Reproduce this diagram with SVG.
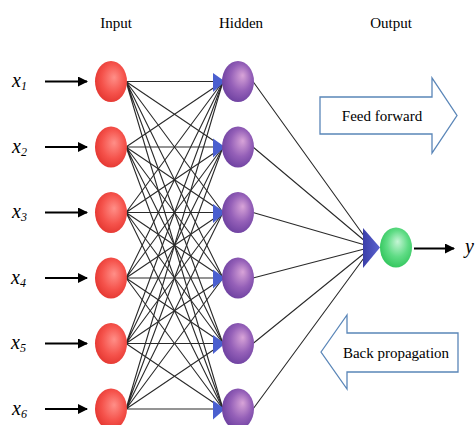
<svg xmlns="http://www.w3.org/2000/svg" width="476" height="425" viewBox="0 0 476 425">
<defs>
<radialGradient id="gRed" cx="0.55" cy="0.45" r="0.6" fx="0.6" fy="0.4">
<stop offset="0" stop-color="#ff8f88"/><stop offset="0.6" stop-color="#f5524b"/><stop offset="1" stop-color="#e3352f"/>
</radialGradient>
<radialGradient id="gPur" cx="0.55" cy="0.45" r="0.6" fx="0.65" fy="0.35">
<stop offset="0" stop-color="#d8a4d8"/><stop offset="0.55" stop-color="#9560b8"/><stop offset="1" stop-color="#6b3f9f"/>
</radialGradient>
<radialGradient id="gGrn" cx="0.55" cy="0.45" r="0.6" fx="0.55" fy="0.35">
<stop offset="0" stop-color="#c5f5d5"/><stop offset="0.55" stop-color="#5fdc85"/><stop offset="1" stop-color="#2fc45a"/>
</radialGradient>
<linearGradient id="gTri" x1="0" y1="0" x2="1" y2="0">
<stop offset="0" stop-color="#3b3fa8"/><stop offset="1" stop-color="#5a62d0"/>
</linearGradient>
<marker id="ah" viewBox="0 0 10 10" refX="9" refY="5" markerWidth="5" markerHeight="5" markerUnits="strokeWidth" orient="auto">
<path d="M0,0 L10,5 L0,10 z" fill="#000"/>
</marker>
</defs>
<style>
.t{font-family:"Liberation Serif","Times New Roman",serif;font-size:15px;fill:#000;text-anchor:middle}
.x{font-family:"Liberation Serif","Times New Roman",serif;font-style:italic;font-size:20px;fill:#000}
.sub{font-size:12px}
.w{stroke:#2a2a2a;stroke-width:1.1;fill:none}
.ia{stroke:#000;stroke-width:2;fill:none;marker-end:url(#ah)}
.big{fill:#fff;stroke:#5a86b8;stroke-width:1.3}
.ht{fill:#4a5fcf}
</style>
<rect width="476" height="425" fill="#fff"/>
<text class="t" x="116" y="28">Input</text>
<text class="t" x="241" y="28">Hidden</text>
<text class="t" x="391" y="28">Output</text>
<g id="connectors">
<g class="w">
<path d="M126,81.5L223,81.5M126,81.5L223,147M126,81.5L223,212.5M126,81.5L223,278M126,81.5L223,343.5M126,81.5L223,409"/>
<path d="M126,147L223,81.5M126,147L223,147M126,147L223,212.5M126,147L223,278M126,147L223,343.5M126,147L223,409"/>
<path d="M126,212.5L223,81.5M126,212.5L223,147M126,212.5L223,212.5M126,212.5L223,278M126,212.5L223,343.5M126,212.5L223,409"/>
<path d="M126,278L223,81.5M126,278L223,147M126,278L223,212.5M126,278L223,278M126,278L223,343.5M126,278L223,409"/>
<path d="M126,343.5L223,81.5M126,343.5L223,147M126,343.5L223,212.5M126,343.5L223,278M126,343.5L223,343.5M126,343.5L223,409"/>
<path d="M126,409L223,81.5M126,409L223,147M126,409L223,212.5M126,409L223,278M126,409L223,343.5M126,409L223,409"/>
<path d="M253,81.5L372,247M253,147L372,247M253,212.5L372,247M253,278L372,247M253,343.5L372,247M253,409L372,247"/>
</g>
<path class="ia" d="M45,81.5H87"/>
<path class="ia" d="M45,147H87"/>
<path class="ia" d="M45,212.5H87"/>
<path class="ia" d="M45,278H87"/>
<path class="ia" d="M45,343.5H87"/>
<path class="ia" d="M45,409H87"/>
<path class="ia" d="M414,248.5H454"/>
<g class="ht">
<polygon points="213,73 225,81.5 213,92"/>
<polygon points="213,138.5 225,147 213,157.5"/>
<polygon points="213,204 225,212.5 213,223"/>
<polygon points="213,269.5 225,278 213,288.5"/>
<polygon points="213,335 225,343.5 213,354"/>
<polygon points="213,400.5 225,409 213,419.5"/>
</g>
<polygon points="363,228 380,247.5 363,268" fill="url(#gTri)"/>
</g>
<g id="labels">
<text class="x" x="12" y="87">x<tspan class="sub" dy="3">1</tspan></text>
<text class="x" x="12" y="152.5">x<tspan class="sub" dy="3">2</tspan></text>
<text class="x" x="12" y="218">x<tspan class="sub" dy="3">3</tspan></text>
<text class="x" x="11" y="283.5">x<tspan class="sub" dy="3">4</tspan></text>
<text class="x" x="11" y="349">x<tspan class="sub" dy="3">5</tspan></text>
<text class="x" x="12" y="414.5">x<tspan class="sub" dy="3">6</tspan></text>
<text class="x" x="465" y="253">y</text>
</g>
<g id="input">
<ellipse cx="111" cy="81.5" rx="16" ry="20.5" fill="url(#gRed)"/>
<ellipse cx="111" cy="147" rx="16" ry="20.5" fill="url(#gRed)"/>
<ellipse cx="111" cy="212.5" rx="16" ry="20.5" fill="url(#gRed)"/>
<ellipse cx="111" cy="278" rx="16" ry="20.5" fill="url(#gRed)"/>
<ellipse cx="111" cy="343.5" rx="16" ry="20.5" fill="url(#gRed)"/>
<ellipse cx="111" cy="409" rx="16" ry="20.5" fill="url(#gRed)"/>
</g>
<g id="hidden">
<ellipse cx="238" cy="81.5" rx="16" ry="20.5" fill="url(#gPur)"/>
<ellipse cx="238" cy="147" rx="16" ry="20.5" fill="url(#gPur)"/>
<ellipse cx="238" cy="212.5" rx="16" ry="20.5" fill="url(#gPur)"/>
<ellipse cx="238" cy="278" rx="16" ry="20.5" fill="url(#gPur)"/>
<ellipse cx="238" cy="343.5" rx="16" ry="20.5" fill="url(#gPur)"/>
<ellipse cx="238" cy="409" rx="16" ry="20.5" fill="url(#gPur)"/>
</g>
<g id="output">
<ellipse cx="396" cy="247.5" rx="16" ry="20" fill="url(#gGrn)"/>
</g>
<g id="feedforward">
<polygon class="big" points="320,97 432,97 432,78 457,115.5 432,153 432,134 320,134"/>
<text class="t" x="382" y="121">Feed forward</text>
</g>
<g id="backprop">
<polygon class="big" points="321,352 347,315 347,333 458,333 458,372 347,372 347,389"/>
<text class="t" x="396" y="358">Back propagation</text>
</g>
</svg>
